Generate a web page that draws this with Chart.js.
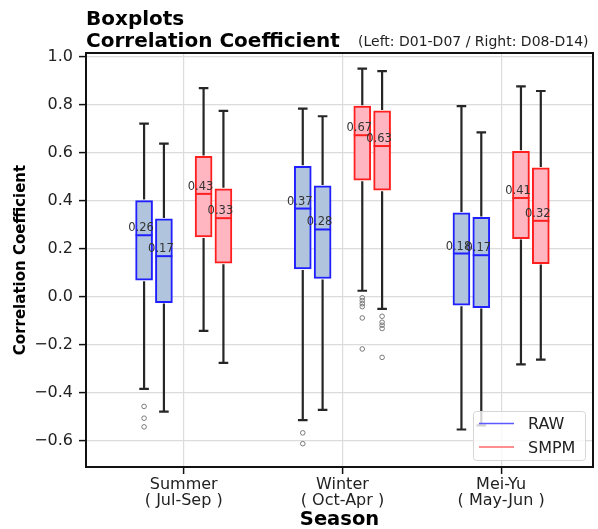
<!DOCTYPE html>
<html><head><meta charset="utf-8">
<script src="https://cdn.jsdelivr.net/npm/chart.js@4.4.1/dist/chart.umd.min.js"></script>
<style>html,body{margin:0;padding:0;background:#fff;} canvas{display:block;}</style>
</head><body>
<canvas id="c" width="598" height="529"></canvas>
<script>
// ---------- data ----------
const seasons = ['Summer', 'Winter', 'Mei-Yu'];
const seasonMonths = ['( Jul-Sep )', '( Oct-Apr )', '( May-Jun )'];
const yTicks = [-0.6, -0.4, -0.2, 0.0, 0.2, 0.4, 0.6, 0.8, 1.0];
const legendLabels = ['RAW', 'SMPM'];
// per season: [lower whisker, Q1, median, Q3, upper whisker]
const rawD01D07  = [[-0.383, 0.069, 0.256, 0.400, 0.720], [-0.513, 0.116, 0.367, 0.543, 0.783], [-0.552, -0.035, 0.180, 0.349, 0.793]];
const rawD08D14  = [[-0.478, -0.024, 0.169, 0.324, 0.637], [-0.470, 0.076, 0.280, 0.461, 0.751], [-0.535, -0.045, 0.173, 0.330, 0.684]];
const smpmD01D07 = [[-0.142, 0.249, 0.428, 0.584, 0.868], [0.025, 0.485, 0.672, 0.793, 0.949], [-0.281, 0.242, 0.411, 0.605, 0.875]];
const smpmD08D14 = [[-0.275, 0.140, 0.327, 0.449, 0.773], [-0.050, 0.443, 0.627, 0.773, 0.939], [-0.261, 0.138, 0.316, 0.536, 0.856]];
// outliers per season
const rawD01D07Out  = [[-0.456, -0.505, -0.541], [-0.566, -0.611], []];
const rawD08D14Out  = [[], [], []];
const smpmD01D07Out = [[], [-0.004, -0.016, -0.029, -0.041, -0.088, -0.217], []];
const smpmD08D14Out = [[], [-0.081, -0.106, -0.118, -0.132, -0.252], []];

// ---------- styling ----------
const FONT = 'DejaVu Sans';
const groupOffsets = [-0.25, -0.125, 0.125, 0.25];
const series = [
  {stats: rawD01D07,  out: rawD01D07Out,  edge: '#1f1fff', fill: '#b0c4de'},
  {stats: rawD08D14,  out: rawD08D14Out,  edge: '#1f1fff', fill: '#b0c4de'},
  {stats: smpmD01D07, out: smpmD01D07Out, edge: '#ff1f1f', fill: '#ffb6c1'},
  {stats: smpmD08D14, out: smpmD08D14Out, edge: '#ff1f1f', fill: '#ffb6c1'}
];

const datasets = [];
series.forEach((s, k) => {
  datasets.push({
    type: 'bar',
    data: s.stats.map((st, i) => ({x: i + groupOffsets[k], y: [st[1], st[3]]})),
    backgroundColor: s.fill, borderColor: s.edge, borderWidth: 2,
    borderSkipped: false, barThickness: 17, grouped: false, order: 2
  });
});
series.forEach((s, k) => {
  const pts = [];
  s.out.forEach((arr, i) => arr.forEach(v => pts.push({x: i + groupOffsets[k], y: v})));
  datasets.push({
    type: 'scatter', data: pts, pointRadius: 2.3, pointBorderWidth: 1,
    pointBorderColor: '#7a7a7a', pointBackgroundColor: 'rgba(0,0,0,0)', order: 1
  });
});

const boxPlugin = {
  id: 'boxExtras',
  afterDatasetsDraw(chart) {
    const ctx = chart.ctx, xs = chart.scales.x, ys = chart.scales.y;
    const half = 8.5, cap = 4.8;
    ctx.save();
    series.forEach((s, k) => {
      s.stats.forEach((st, i) => {
        const x = xs.getPixelForValue(i + groupOffsets[k]);
        const [lo, q1, med, q3, hi] = st.map(v => ys.getPixelForValue(v));
        ctx.strokeStyle = '#262626'; ctx.lineWidth = 2.2;
        ctx.beginPath();
        ctx.moveTo(x, q3 - 1); ctx.lineTo(x, hi);
        ctx.moveTo(x - cap, hi); ctx.lineTo(x + cap, hi);
        ctx.moveTo(x, q1 + 1); ctx.lineTo(x, lo);
        ctx.moveTo(x - cap, lo); ctx.lineTo(x + cap, lo);
        ctx.stroke();
        ctx.strokeStyle = s.edge; ctx.lineWidth = 2;
        ctx.beginPath(); ctx.moveTo(x - half, med); ctx.lineTo(x + half, med); ctx.stroke();
        ctx.fillStyle = '#333';
        ctx.font = '11.5px "' + FONT + '"';
        ctx.textAlign = 'center'; ctx.textBaseline = 'alphabetic';
        ctx.fillText(st[2].toFixed(2), x - 3, med - 4);
      });
    });
    ctx.restore();
  },
  afterDraw(chart) {
    const ctx = chart.ctx, a = chart.chartArea;
    ctx.save();
    // legend
    ctx.fillStyle = 'rgba(255,255,255,0.8)'; ctx.strokeStyle = '#d6d6d6'; ctx.lineWidth = 1;
    ctx.beginPath(); ctx.roundRect(473.5, 411.5, 112, 49, 3); ctx.fill(); ctx.stroke();
    const cols = ['#5a5aff', '#ff6a6a'];
    legendLabels.forEach((t, j) => {
      const y = 423.5 + j * 23.5;
      ctx.strokeStyle = cols[j]; ctx.lineWidth = 1.5;
      ctx.beginPath(); ctx.moveTo(479, y); ctx.lineTo(514, y); ctx.stroke();
      ctx.fillStyle = '#222'; ctx.font = '16px "' + FONT + '"';
      ctx.textAlign = 'left'; ctx.textBaseline = 'alphabetic';
      ctx.fillText(t, 528, y + 5.5);
    });
    // frame
    ctx.strokeStyle = '#111'; ctx.lineWidth = 2;
    ctx.strokeRect(a.left, a.top, a.right - a.left, a.bottom - a.top);
    // titles
    ctx.fillStyle = '#000'; ctx.textAlign = 'left'; ctx.textBaseline = 'alphabetic';
    ctx.font = 'bold 20px "' + FONT + '"';
    ctx.fillText('Boxplots', 86, 25);
    ctx.fillText('Correlation Coefficient', 86, 47);
    ctx.fillStyle = '#222';
    ctx.font = '14px "' + FONT + '"';
    ctx.fillText('(Left: D01-D07 / Right: D08-D14)', 358, 46);
    ctx.restore();
  }
};

new Chart(document.getElementById('c'), {
  type: 'bar',
  data: {datasets},
  plugins: [boxPlugin],
  options: {
    responsive: false, animation: false,
    layout: {padding: {top: 53, right: 4, left: 0, bottom: 0}},
    plugins: {legend: {display: false}, tooltip: {enabled: false}, title: {display: false}},
    scales: {
      x: {
        type: 'linear', min: -0.616, max: 2.579, offset: false,
        afterBuildTicks: s => { s.ticks = [0, 1, 2].map(v => ({value: v})); },
        afterFit: s => { s.height = 62; },
        grid: {offset: false, color: '#dcdcdc', lineWidth: 1.2, tickLength: 7, tickColor: '#111', tickWidth: 1.5},
        border: {display: false},
        ticks: {
          color: '#222', padding: 2, maxRotation: 0, autoSkip: false,
          font: {family: FONT, size: 16, lineHeight: 1.05},
          callback: v => [seasons[Math.round(v)], seasonMonths[Math.round(v)]]
        },
        title: {display: true, text: 'Season', color: '#000', padding: 0,
          font: {family: FONT, size: 19.5, weight: 'bold', lineHeight: 0.9}}
      },
      y: {
        type: 'linear', min: -0.708, max: 1.014,
        afterBuildTicks: s => { s.ticks = yTicks.map(v => ({value: v})); },
        afterFit: s => { s.width = 86; },
        grid: {offset: false, color: '#dcdcdc', lineWidth: 1.2, tickLength: 7, tickColor: '#111', tickWidth: 1.5},
        border: {display: false},
        ticks: {
          color: '#222', padding: 6,
          font: {family: FONT, size: 16},
          callback: v => v.toFixed(1).replace('-', '\u2212')
        },
        title: {display: true, text: 'Correlation Coefficient', color: '#000',
          padding: {top: 12.5, bottom: 0},
          font: {family: FONT, size: 15, weight: 'bold', lineHeight: 1.2}}
      }
    }
  }
});
</script>
</body></html>
